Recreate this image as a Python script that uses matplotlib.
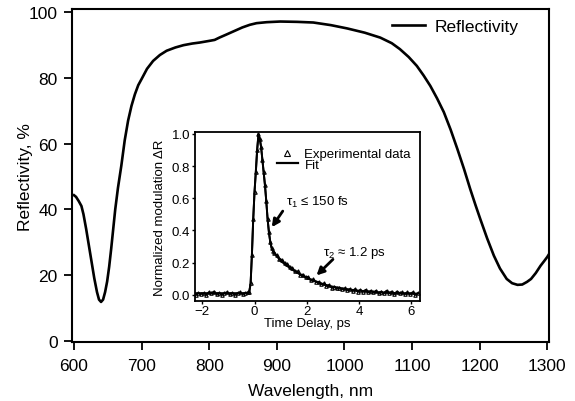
import matplotlib
matplotlib.use('Agg')
import matplotlib.pyplot as plt
from matplotlib.lines import Line2D

plt.rcParams['font.family'] = ['Liberation Sans', 'DejaVu Sans']
plt.rcParams['mathtext.fontset'] = 'custom'
plt.rcParams['mathtext.rm'] = 'Liberation Sans'
plt.rcParams['mathtext.it'] = 'Liberation Sans'
plt.rcParams['mathtext.bf'] = 'Liberation Sans:bold'

# main curve: reflectivity spectrum
wavelength = [600, 603, 607, 611, 614, 618, 622, 626, 630, 634, 637, 640, 643, 646,
              649, 652, 655, 658, 661, 665, 670, 675, 680, 685, 690, 695, 700, 708,
              717, 727, 737, 750, 762, 775, 786, 800, 808, 815, 825, 837, 849, 860,
              870, 885, 905, 930, 954, 980, 1004, 1030, 1053, 1070, 1082, 1095, 1107,
              1117, 1127, 1137, 1147, 1157, 1167, 1177, 1186, 1194, 1201, 1211, 1221,
              1230, 1240, 1248, 1256, 1263, 1270, 1276, 1283, 1290, 1296, 1300, 1303]
reflectivity = [44.3, 43.8, 42.5, 41.0, 38.5, 34.0, 29.0, 24.0, 19.0, 14.8, 12.5, 11.8,
                12.5, 14.8, 18.0, 22.5, 28.0, 34.0, 40.0, 46.5, 53.3, 61.0, 67.0, 71.5,
                75.0, 77.8, 79.7, 82.8, 85.2, 87.0, 88.3, 89.3, 90.0, 90.5, 90.8, 91.3,
                91.6, 92.3, 93.2, 94.3, 95.4, 96.2, 96.7, 97.0, 97.2, 97.1, 96.9, 96.1,
                95.1, 93.8, 92.3, 90.6, 88.8, 86.4, 83.7, 80.8, 77.6, 73.8, 69.6, 64.3,
                58.4, 52.2, 46.2, 41.2, 37.0, 31.2, 25.9, 22.0, 18.8, 17.5, 17.0, 17.1,
                17.9, 18.8, 20.6, 22.8, 24.4, 25.5, 26.5]

# inset: pump-probe experimental data
t_exp = [-2.25, -2.15, -2.05, -1.95, -1.85, -1.75, -1.65, -1.55, -1.45, -1.35, -1.25,
         -1.15, -1.05, -0.95, -0.85, -0.75, -0.65, -0.55, -0.45, -0.35, -0.25,
         -0.2, -0.15, -0.1, -0.05, 0.0, 0.05, 0.1, 0.15, 0.2, 0.25, 0.3, 0.35, 0.4,
         0.45, 0.5, 0.55, 0.6, 0.65, 0.7, 0.75,
         0.85, 0.95, 1.05, 1.15, 1.25, 1.35, 1.45, 1.55, 1.65, 1.75, 1.85, 1.95,
         2.05, 2.15, 2.25, 2.35, 2.45, 2.55, 2.65, 2.75,
         2.85, 2.95, 3.05, 3.15, 3.25, 3.35, 3.45, 3.55, 3.65, 3.75, 3.85, 3.95,
         4.05, 4.15, 4.25, 4.35, 4.45, 4.55, 4.65, 4.75,
         4.85, 4.95, 5.05, 5.15, 5.25, 5.35, 5.45, 5.55, 5.65, 5.75, 5.85, 5.95,
         6.05, 6.15, 6.25]
dr_exp = [0.0, 0.01, 0.005, 0.01, 0.0, 0.015, 0.01, 0.02, 0.005, 0.01, 0.0,
          0.01, 0.015, 0.005, 0.01, 0.0, 0.01, 0.015, 0.005, 0.01, 0.015,
          0.02, 0.07, 0.25, 0.47, 0.64, 0.76, 0.9, 1.0, 0.97, 0.92, 0.84, 0.76, 0.68,
          0.58, 0.47, 0.39, 0.33, 0.29, 0.275, 0.26,
          0.245, 0.225, 0.215, 0.195, 0.19, 0.17, 0.165, 0.145, 0.145, 0.125, 0.125, 0.11,
          0.11, 0.09, 0.095, 0.08, 0.08, 0.065, 0.07, 0.055,
          0.06, 0.045, 0.05, 0.04, 0.045, 0.035, 0.04, 0.03, 0.035, 0.025, 0.035, 0.02,
          0.03, 0.02, 0.03, 0.015, 0.025, 0.015, 0.025, 0.01,
          0.02, 0.01, 0.025, 0.01, 0.02, 0.005, 0.02, 0.01, 0.015, 0.005, 0.015, 0.005,
          0.015, 0.0, 0.01]

# inset: fit curve
t_fit = [-2.25, -0.25, -0.2, -0.15, -0.1, -0.05, 0.0, 0.05, 0.1, 0.15,
         0.2, 0.25, 0.3, 0.35, 0.4, 0.45, 0.5, 0.55, 0.6, 0.65,
         0.7, 0.8, 0.9, 1.0, 1.2, 1.4, 1.6, 1.8, 2.0, 2.2,
         2.4, 2.6, 2.8, 3.0, 3.5, 4.0, 4.5, 5.0, 5.5, 6.0, 6.25]
dr_fit = [0.01, 0.01, 0.02, 0.07, 0.25, 0.47, 0.64, 0.77, 0.9, 0.99,
          0.97, 0.92, 0.84, 0.76, 0.68, 0.58, 0.47, 0.39, 0.33, 0.295,
          0.275, 0.25, 0.23, 0.21, 0.185, 0.16, 0.14, 0.12, 0.105, 0.09,
          0.078, 0.067, 0.058, 0.05, 0.035, 0.025, 0.018, 0.013, 0.01, 0.008, 0.007]

fig = plt.figure(figsize=(5.75, 4.02), dpi=100)
ax = fig.add_axes([0.1247, 0.146, 0.8306, 0.829])

ax.plot(wavelength, reflectivity, color='k', lw=1.9)
ax.set_xlim(596.6, 1303)
ax.set_ylim(-0.5, 101)
ax.set_xticks([600, 700, 800, 900, 1000, 1100, 1200, 1300])
ax.set_yticks([0, 20, 40, 60, 80, 100])
ax.tick_params(direction='out', length=6, width=1.3, labelsize=12.5)
ax.tick_params(axis='x', pad=5.5)
ax.tick_params(axis='y', pad=4)
for s in ax.spines.values():
    s.set_linewidth(1.5)
ax.set_xlabel('Wavelength, nm', fontsize=12.5, labelpad=7)
ax.set_ylabel('Reflectivity, %', fontsize=12.5, labelpad=-3)

h = [Line2D([], [], color='k', lw=1.9)]
ax.legend(h, ['Reflectivity'], loc='upper right', bbox_to_anchor=(0.951, 0.991),
          borderaxespad=0, frameon=False, fontsize=12.5, handlelength=1.85,
          handletextpad=0.6)

# inset
ins = fig.add_axes([0.339, 0.2495, 0.391, 0.419])
ins.plot(t_exp, dr_exp, color='k', lw=1.4, marker='^', ms=2.5, mfc='none',
         mec='k', mew=0.8)
ins.plot(t_fit, dr_fit, color='k', lw=1.4)
ins.set_xlim(-2.28, 6.32)
ins.set_ylim(-0.037, 1.01)
ins.set_xticks([-2, 0, 2, 4, 6])
ins.set_yticks([0.0, 0.2, 0.4, 0.6, 0.8, 1.0])
ins.set_yticklabels(['0.0', '0.2', '0.4', '0.6', '0.8', '1.0'])
ins.tick_params(direction='out', length=2.5, width=1.0, labelsize=9.5, pad=0.8)
for s in ins.spines.values():
    s.set_linewidth(1.3)
ins.set_xlabel('Time Delay, ps', fontsize=9.5, labelpad=0)
ins.set_ylabel('Normalized modulation ΔR', fontsize=9.5, labelpad=4)

h2 = [Line2D([], [], linestyle='none', marker='^', ms=4, mfc='none', mec='k', mew=0.8),
      Line2D([], [], color='k', lw=1.6)]
ins.legend(h2, ['Experimental data', 'Fit'], loc='upper left',
           bbox_to_anchor=(0.364, 0.907), borderaxespad=0, borderpad=0,
           frameon=False, fontsize=9.5, handlelength=1.6, handletextpad=0.5,
           labelspacing=-0.1)

ins.text(1.2, 0.58, r'$\tau_1$ ≤ 150 fs', fontsize=9.5, ha='left', va='center')
ins.annotate('', xy=(0.66, 0.42), xytext=(1.08, 0.52),
             arrowprops=dict(arrowstyle='-|>', color='k', lw=2.0, mutation_scale=11,
                             shrinkA=0, shrinkB=0))
ins.text(2.62, 0.266, r'$\tau_2$ ≈ 1.2 ps', fontsize=9.5, ha='left', va='center')
ins.annotate('', xy=(2.37, 0.12), xytext=(3.0, 0.22),
             arrowprops=dict(arrowstyle='-|>', color='k', lw=2.0, mutation_scale=11,
                             shrinkA=0, shrinkB=0))

fig.savefig('out.png', dpi=100)
